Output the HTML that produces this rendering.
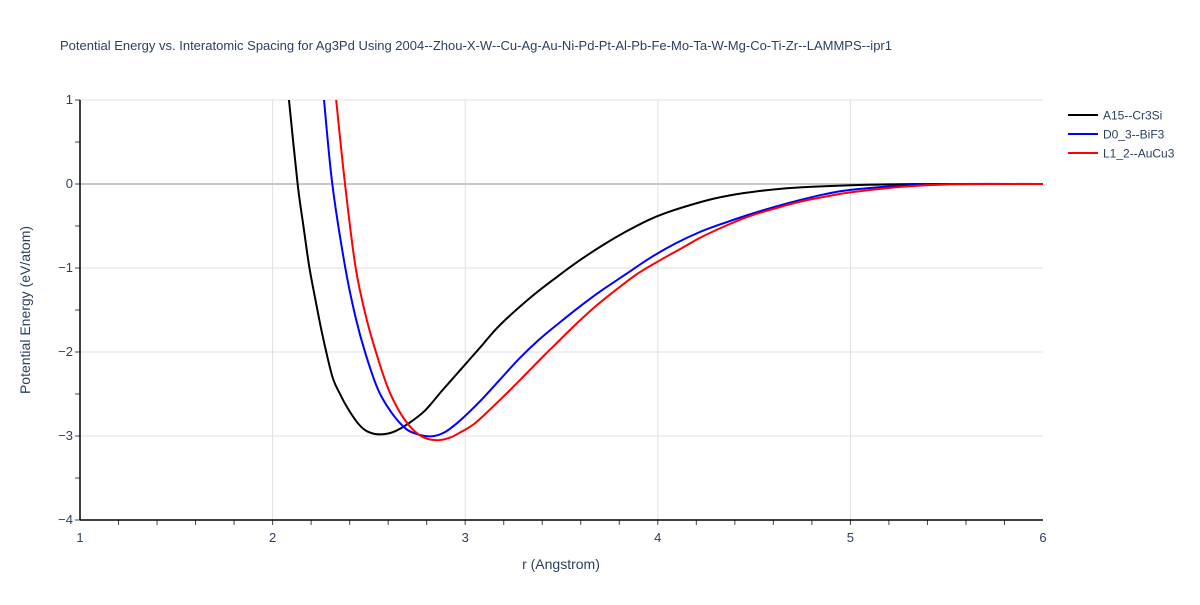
<!DOCTYPE html>
<html><head><meta charset="utf-8"><style>
body{margin:0;background:#fff;font-family:"Liberation Sans",Arial,sans-serif;}
svg text{font-family:"Liberation Sans",Arial,sans-serif;}
</style></head><body>
<svg id="chart" width="1200" height="600">
<text x="60" y="50" font-size="13" fill="#2a3f5f">Potential Energy vs. Interatomic Spacing for Ag3Pd Using 2004--Zhou-X-W--Cu-Ag-Au-Ni-Pd-Pt-Al-Pb-Fe-Mo-Ta-W-Mg-Co-Ti-Zr--LAMMPS--ipr1</text>
<g id="grid"></g>
<g id="axes"></g>
<defs><clipPath id="clip"><rect x="80" y="100" width="963" height="420"/></clipPath></defs>
<g id="series" clip-path="url(#clip)"></g>
<text x="561" y="569" font-size="14" fill="#2a3f5f" text-anchor="middle">r (Angstrom)</text>
<text transform="translate(30,310) rotate(-90)" font-size="14" fill="#2a3f5f" text-anchor="middle">Potential Energy (eV/atom)</text>
<g id="legend"></g>
</svg>
<script>
const seriesNames = ["A15--Cr3Si","D0_3--BiF3","L1_2--AuCu3"];
const seriesColors = ["#000000","#0000ff","#ff0000"];
const rA15 = [2.085,2.13,2.16,2.19,2.22,2.26,2.31,2.35,2.39,2.44,2.48,2.52,2.56,2.60,2.64,2.70,2.79,2.88,2.98,3.08,3.18,3.34,3.48,3.60,3.72,3.84,3.96,4.06,4.17,4.30,4.44,4.60,4.74,5.0,5.26,5.5,6.0];
const eA15 = [1.0,0.0,-0.5,-0.98,-1.35,-1.81,-2.29,-2.50,-2.67,-2.84,-2.93,-2.97,-2.98,-2.97,-2.94,-2.86,-2.70,-2.46,-2.20,-1.94,-1.68,-1.35,-1.10,-0.90,-0.72,-0.56,-0.42,-0.33,-0.25,-0.17,-0.11,-0.065,-0.04,-0.015,-0.003,0,0];
const rD03 = [2.267,2.31,2.376,2.43,2.485,2.55,2.62,2.69,2.74,2.79,2.84,2.89,2.94,3.0,3.08,3.18,3.28,3.38,3.49,3.60,3.70,3.83,3.96,4.09,4.22,4.35,4.48,4.61,4.74,4.87,5.0,5.26,5.52,6.0];
const eD03 = [1.0,0.0,-0.98,-1.58,-2.04,-2.46,-2.73,-2.91,-2.97,-3.0,-3.0,-2.96,-2.88,-2.76,-2.58,-2.33,-2.08,-1.86,-1.65,-1.45,-1.28,-1.08,-0.88,-0.71,-0.57,-0.46,-0.36,-0.27,-0.19,-0.12,-0.07,-0.02,0,0];
const rL12 = [2.33,2.376,2.43,2.485,2.55,2.61,2.69,2.77,2.85,2.92,2.98,3.05,3.14,3.23,3.32,3.41,3.49,3.57,3.68,3.80,3.90,4.01,4.12,4.22,4.35,4.48,4.61,4.74,4.87,5.0,5.26,5.52,6.0];
const eL12 = [1.0,0.0,-0.98,-1.58,-2.1,-2.49,-2.82,-3.0,-3.05,-3.02,-2.95,-2.85,-2.66,-2.46,-2.25,-2.04,-1.86,-1.68,-1.45,-1.23,-1.06,-0.91,-0.77,-0.64,-0.50,-0.38,-0.29,-0.21,-0.15,-0.10,-0.035,-0.005,0];
const xTicks = [1,2,3,4,5,6];
const yTicks = [1,0,-1,-2,-3,-4];
const yTickLabels = ["1","0","\u22121","\u22122","\u22123","\u22124"];

const NS="http://www.w3.org/2000/svg";
const X0=80,X1=1043,Y0=100,Y1=520;
const xs=r=>X0+(r-1)/(6-1)*(X1-X0);
const ys=e=>Y0+(1-e)/(1-(-4))*(Y1-Y0);
function mk(tag,attrs,parent){const el=document.createElementNS(NS,tag);for(const k in attrs)el.setAttribute(k,attrs[k]);parent.appendChild(el);return el;}
const grid=document.getElementById('grid'),axes=document.getElementById('axes'),ser=document.getElementById('series'),leg=document.getElementById('legend');
xTicks.forEach(t=>{
  if(t>1&&t<6){const l=mk('line',{x1:xs(t),x2:xs(t),y1:Y0,y2:Y1,stroke:'#e0e0e0','stroke-width':1},grid);
  
  }
  const tx=mk('text',{x:xs(t),y:Y1+22,'font-size':13,fill:'#2a3f5f','text-anchor':'middle'},axes);tx.textContent=t;
  
  
});
for(let r=1.2;r<6;r+=0.2){mk('line',{x1:xs(r),x2:xs(r),y1:Y1,y2:Y1+5,stroke:'#444','stroke-width':1},axes);}
yTicks.forEach((t,i)=>{
  const gl=mk('line',{x1:X0,x2:X1,y1:ys(t),y2:ys(t),stroke:t===0?'#c8c8c8':'#e0e0e0','stroke-width':t===0?2:1},grid);
  
  
  const tx=mk('text',{x:X0-7,y:ys(t)+4,'font-size':13,fill:'#2a3f5f','text-anchor':'end'},axes);tx.textContent=yTickLabels[i];
  
  
  mk('line',{x1:X0-5,x2:X0,y1:ys(t),y2:ys(t),stroke:'#444'},axes);
});
for(let e=0.5;e>-4;e-=1){mk('line',{x1:X0-5,x2:X0,y1:ys(e),y2:ys(e),stroke:'#444'},axes);}
const xa=mk('line',{x1:X0,x2:X1,y1:Y1,y2:Y1,stroke:'#000','stroke-width':1.5},axes);


const ya=mk('line',{x1:X0,x2:X0,y1:Y0,y2:Y1,stroke:'#000','stroke-width':1.5},axes);


const data=[[rA15,eA15],[rD03,eD03],[rL12,eL12]];
const ids=['a15','d03','l12'];
data.forEach((d,i)=>{
  const pts=d[0].map((r,j)=>[xs(r),ys(d[1][j])]);
  let p='M'+pts[0][0]+','+pts[0][1];
  for(let j=0;j<pts.length-1;j++){
    const p0=pts[Math.max(j-1,0)],p1=pts[j],p2=pts[j+1],p3=pts[Math.min(j+2,pts.length-1)];
    const c1=[p1[0]+(p2[0]-p0[0])/6,p1[1]+(p2[1]-p0[1])/6],c2=[p2[0]-(p3[0]-p1[0])/6,p2[1]-(p3[1]-p1[1])/6];
    p+=` C${c1[0]},${c1[1]} ${c2[0]},${c2[1]} ${p2[0]},${p2[1]}`;
  }
  const path=mk('path',{d:p,fill:'none',stroke:seriesColors[i],'stroke-width':2,'stroke-linejoin':'round'},ser);
  
  
  const y=115+i*19;
  const g=mk('g',{},leg);
  
  
  mk('line',{x1:1068,x2:1098,y1:y,y2:y,stroke:seriesColors[i],'stroke-width':2},g);
  const t=mk('text',{x:1103,y:y+4.5,'font-size':12,fill:'#2a3f5f'},g);t.textContent=seriesNames[i];
});
</script>
</body></html>
